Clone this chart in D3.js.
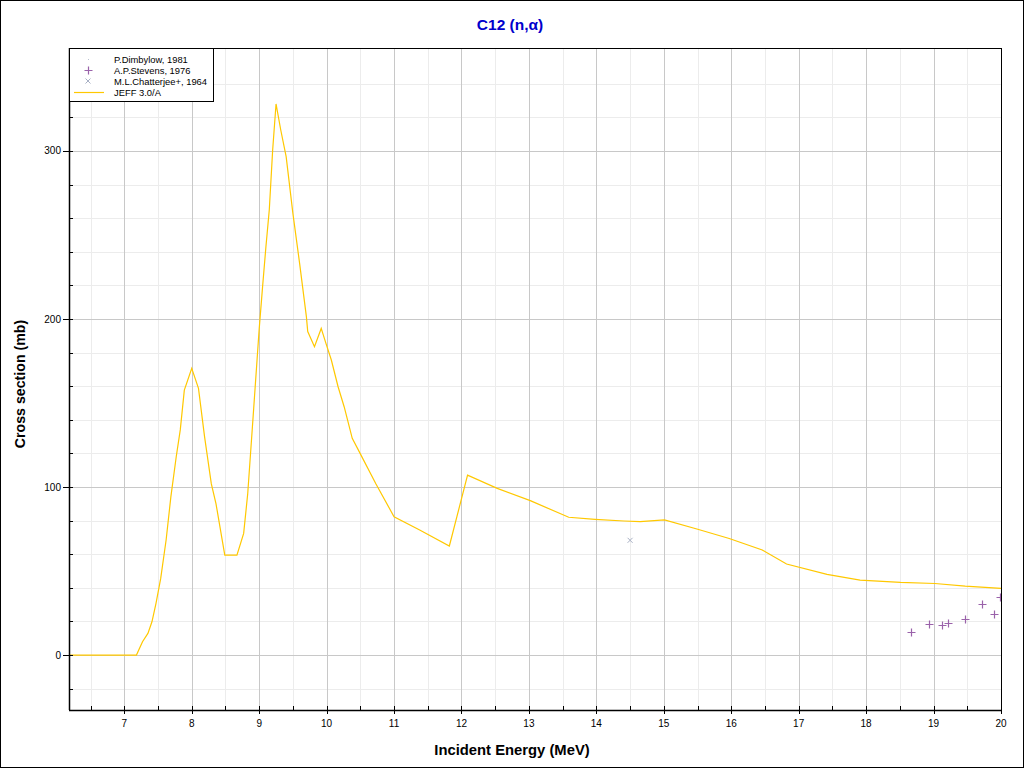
<!DOCTYPE html>
<html><head><meta charset="utf-8">
<script src="https://cdn.jsdelivr.net/npm/d3@7"></script>
<style>html,body{margin:0;padding:0;background:#fff;}svg{display:block;}</style>
</head><body>
<script>
// ---- data ----
const jeffE = [6.18, 7.18, 7.27, 7.35, 7.41, 7.47, 7.54, 7.62, 7.69, 7.77, 7.83, 7.89, 8.00, 8.10, 8.19, 8.29, 8.36, 8.49, 8.67, 8.77, 8.83, 8.90, 9.00, 9.05, 9.10, 9.15, 9.20, 9.25, 9.32, 9.40, 9.50, 9.60, 9.70, 9.72, 9.82, 9.92, 9.99, 10.07, 10.17, 10.26, 10.38, 10.51, 10.73, 11.00, 11.38, 11.82, 12.09, 12.53, 13.02, 13.59, 13.98, 14.41, 14.65, 15.01, 15.49, 15.97, 16.46, 16.82, 17.42, 17.91, 18.51, 19.02, 19.47, 20.00];
const jeffXS = [0, 0, 7.9, 12.9, 19.8, 30.8, 45.6, 68.5, 94, 118, 134, 157.7, 170.6, 158.7, 130, 102, 90, 59.5, 59.5, 72.4, 96, 136, 194, 219, 243, 265, 300.6, 328, 312.5, 296.6, 262.9, 233, 201.4, 192.5, 183.5, 194.4, 185.5, 175.6, 159.7, 147.8, 129, 119, 102, 82.3, 74.4, 64.9, 107.1, 99.2, 91.9, 82, 80.8, 79.8, 79.4, 80.4, 75, 69.4, 62.5, 54.2, 48.0, 44.6, 43.2, 42.6, 41, 39.7];
const stevensE = [18.66, 18.93, 19.12, 19.21, 19.47, 19.72, 19.90, 19.99];
const stevensXS = [13.5, 18.5, 17.7, 18.8, 21.2, 30.2, 24.4, 34.5];
const chatterjeeE = [14.5];
const chatterjeeXS = [68.3];
const dimbylowE = [];
const dimbylowXS = [];
const xMajorTicks = [7, 8, 9, 10, 11, 12, 13, 14, 15, 16, 17, 18, 19, 20];
const xMinorTicks = [6.5, 7.5, 8.5, 9.5, 10.5, 11.5, 12.5, 13.5, 14.5, 15.5, 16.5, 17.5, 18.5, 19.5];
const yMajorTicks = [0, 100, 200, 300];
const yMinorTicks = [-20, 20, 40, 60, 80, 120, 140, 160, 180, 220, 240, 260, 280, 320, 340];
const legendLabels = ["P.Dimbylow, 1981", "A.P.Stevens, 1976", "M.L.Chatterjee+, 1964", "JEFF 3.0/A"];
const titleText = "C12 (n,\u03b1)";
const xLabel = "Incident Energy (MeV)";
const yLabel = "Cross section (mb)";

// ---- layout ----
const W = 1024, H = 768;
const L = 69, R = 1001, T = 48, B = 710;
const font = "Liberation Sans, Arial, sans-serif";

const svg = d3.select("body").append("svg").attr("width", W).attr("height", H);
svg.append("rect").attr("x", 0.5).attr("y", 0.5).attr("width", W - 1).attr("height", H - 1)
  .attr("fill", "#fff").attr("stroke", "#000");

const x = d3.scaleLinear().domain([6.18, 20]).range([L, R]);
const y = d3.scaleLinear().domain([-32.7, 361.3]).range([B, T]);

const g = svg.append("g");
// minor grid
g.selectAll(".gxm").data(xMinorTicks).enter().append("line")
  .attr("x1", d => Math.round(x(d)) + 0.5).attr("x2", d => Math.round(x(d)) + 0.5)
  .attr("y1", T).attr("y2", B).attr("stroke", "#ececec");
g.selectAll(".gym").data(yMinorTicks).enter().append("line")
  .attr("y1", d => Math.round(y(d)) + 0.5).attr("y2", d => Math.round(y(d)) + 0.5)
  .attr("x1", L).attr("x2", R).attr("stroke", "#ececec");
// major grid
g.selectAll(".gx").data(xMajorTicks).enter().append("line")
  .attr("x1", d => Math.round(x(d)) + 0.5).attr("x2", d => Math.round(x(d)) + 0.5)
  .attr("y1", T).attr("y2", B).attr("stroke", "#c8c8c8");
g.selectAll(".gy").data(yMajorTicks).enter().append("line")
  .attr("y1", d => Math.round(y(d)) + 0.5).attr("y2", d => Math.round(y(d)) + 0.5)
  .attr("x1", L).attr("x2", R).attr("stroke", "#c8c8c8");

// clip
svg.append("clipPath").attr("id", "clip").append("rect")
  .attr("x", L).attr("y", T).attr("width", R - L + 1).attr("height", B - T);
const plot = svg.append("g").attr("clip-path", "url(#clip)");

// JEFF line
const jeff = jeffE.map((e, i) => [e, jeffXS[i]]);
plot.append("path").datum(jeff)
  .attr("d", d3.line().x(d => x(d[0])).y(d => y(d[1])))
  .attr("fill", "none").attr("stroke", "#ffc800").attr("stroke-width", 1.2);

// Stevens +
const plusPath = "M-4,0H4M0,-4V4";
plot.selectAll(".st").data(stevensE.map((e, i) => [e, stevensXS[i]])).enter().append("path")
  .attr("transform", d => `translate(${Math.round(x(d[0])) + 0.5},${Math.round(y(d[1])) + 0.5})`)
  .attr("d", plusPath).attr("stroke", "#9a62aa").attr("stroke-width", 1.2).attr("fill", "none");
// Chatterjee x
const crossPath = "M-2.5,-2.5L2.5,2.5M-2.5,2.5L2.5,-2.5";
plot.selectAll(".ch").data(chatterjeeE.map((e, i) => [e, chatterjeeXS[i]])).enter().append("path")
  .attr("transform", d => `translate(${x(d[0])},${y(d[1])})`)
  .attr("d", crossPath).attr("stroke", "#a8b0c4").attr("stroke-width", 1).attr("fill", "none");
// Dimbylow dots
plot.selectAll(".di").data(dimbylowE.map((e, i) => [e, dimbylowXS[i]])).enter().append("rect")
  .attr("x", d => x(d[0]) - 0.5).attr("y", d => y(d[1]) - 0.5).attr("width", 1).attr("height", 1)
  .attr("fill", "#b8c0d0");

// axes ticks
const ax = svg.append("g").attr("stroke", "#000");
ax.selectAll(".tx").data(xMajorTicks).enter().append("line")
  .attr("x1", d => Math.round(x(d)) + 0.5).attr("x2", d => Math.round(x(d)) + 0.5)
  .attr("y1", B - 4).attr("y2", B + 4);
ax.selectAll(".txm").data(xMinorTicks).enter().append("line")
  .attr("x1", d => Math.round(x(d)) + 0.5).attr("x2", d => Math.round(x(d)) + 0.5)
  .attr("y1", B - 4).attr("y2", B);
ax.selectAll(".ty").data(yMajorTicks).enter().append("line")
  .attr("y1", d => Math.round(y(d)) + 0.5).attr("y2", d => Math.round(y(d)) + 0.5)
  .attr("x1", L - 6).attr("x2", L + 4);
ax.selectAll(".tym").data(yMinorTicks).enter().append("line")
  .attr("y1", d => Math.round(y(d)) + 0.5).attr("y2", d => Math.round(y(d)) + 0.5)
  .attr("x1", L).attr("x2", L + 4);

// frame
svg.append("rect").attr("x", L + 0.5).attr("y", T + 0.5).attr("width", R - L).attr("height", B - T)
  .attr("fill", "none").attr("stroke", "#000");
svg.append("line").attr("x1", L).attr("x2", R + 1).attr("y1", B + 0.5).attr("y2", B + 0.5)
  .attr("stroke", "#000").attr("stroke-width", 1.5);
svg.append("line").attr("x1", L + 0.5).attr("x2", L + 0.5).attr("y1", T).attr("y2", B)
  .attr("stroke", "#000").attr("stroke-width", 1.5);

// tick labels
svg.selectAll(".lx").data(xMajorTicks).enter().append("text")
  .attr("x", d => x(d)).attr("y", B + 17).attr("text-anchor", "middle")
  .attr("font-family", font).attr("font-size", 10).attr("fill", "#000").text(d => d);
svg.selectAll(".ly").data(yMajorTicks).enter().append("text")
  .attr("x", L - 8).attr("y", d => y(d) + 3.5).attr("text-anchor", "end")
  .attr("font-family", font).attr("font-size", 10).attr("fill", "#000").text(d => d);

// titles
svg.append("text").attr("x", 510).attr("y", 30).attr("text-anchor", "middle")
  .attr("font-family", font).attr("font-size", 15.5).attr("font-weight", "bold").attr("fill", "#0000cc")
  .text(titleText);
svg.append("text").attr("x", 512).attr("y", 755).attr("text-anchor", "middle")
  .attr("font-family", font).attr("font-size", 14.8).attr("font-weight", "bold").attr("fill", "#000")
  .text(xLabel);
svg.append("text").attr("transform", `translate(25,${384}) rotate(-90)`).attr("text-anchor", "middle")
  .attr("font-family", font).attr("font-size", 14.2).attr("font-weight", "bold").attr("fill", "#000")
  .text(yLabel);

// legend
const lg = svg.append("g");
lg.append("rect").attr("x", L + 0.5).attr("y", T + 0.5).attr("width", 144).attr("height", 53)
  .attr("fill", "#fff").attr("stroke", "#000");
const ly0 = 59, ldy = 11;
lg.selectAll(".lt").data(legendLabels).enter().append("text")
  .attr("x", 114).attr("y", (d, i) => ly0 + i * ldy + 3.5)
  .attr("font-family", font).attr("font-size", 9.4).attr("fill", "#000").text(d => d);
lg.append("rect").attr("x", 88).attr("y", ly0).attr("width", 1).attr("height", 1).attr("fill", "#b8c0d0");
lg.append("path").attr("transform", `translate(88.5,${ly0 + ldy + 0.5})`).attr("d", plusPath)
  .attr("stroke", "#9a62aa").attr("stroke-width", 1.2);
lg.append("path").attr("transform", `translate(88,${ly0 + 2 * ldy})`).attr("d", crossPath)
  .attr("stroke", "#a8b0c4").attr("stroke-width", 1);
lg.append("line").attr("x1", 74).attr("x2", 104).attr("y1", ly0 + 3 * ldy + 0.5).attr("y2", ly0 + 3 * ldy + 0.5)
  .attr("stroke", "#ffc800").attr("stroke-width", 1.2);
</script>
</body></html>
